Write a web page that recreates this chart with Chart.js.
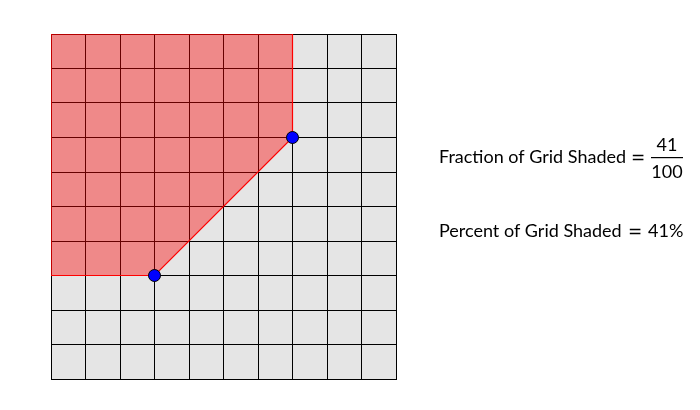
<!DOCTYPE html>
<html>
<head>
<meta charset="utf-8">
<script src="https://cdn.jsdelivr.net/npm/chart.js@4"></script>
<style>
  html, body { margin: 0; padding: 0; background: #fff; }
  #wrap { width: 700px; height: 410px; }
</style>
</head>
<body>
<div id="wrap"><canvas id="grid"></canvas></div>
<script>
// shaded region outline (grid units)
var shadeX = [0, 7, 7, 3, 0, 0];
var shadeY = [10, 10, 7, 3, 3, 10];
// marked vertices
var dotX = [7, 3];
var dotY = [7, 3];
var gridMin = 0, gridMax = 10;
var shadedCount = 41, totalCount = 100;

function pts(xs, ys) {
  return xs.map((x, i) => ({x: x, y: ys[i]}));
}

var bgPlugin = {
  id: "bg",
  beforeDraw: (chart) => {
    var a = chart.chartArea, c = chart.ctx;
    c.save();
    c.fillStyle = "#e5e5e5";
    c.fillRect(a.left, a.top, a.right - a.left, a.bottom - a.top);
    c.restore();
  }
};

var textPlugin = {
  id: "txt",
  afterDraw: (chart) => {
    var c = chart.ctx;
    c.save();
    c.fillStyle = "#000";
    c.font = "18px Lato";
    c.textBaseline = "alphabetic";
    c.textAlign = "left";
    c.fillText("Fraction of Grid Shaded", 439, 163);
    c.fillText("Percent of Grid Shaded", 439, 237);
    c.textAlign = "center";
    c.fillText(String(shadedCount), 667, 151);
    c.fillText(String(totalCount), 667, 178);
    c.fillRect(651, 157, 32, 1.2);
    c.textAlign = "left";
    c.fillText(Math.round(shadedCount / totalCount * 100) + "%", 648, 237);
    c.font = "17px DejaVu Sans";
    c.textAlign = "center";
    c.fillText("=", 638, 163);
    c.fillText("=", 635, 237);
    c.restore();
  }
};

new Chart("grid", {
  type: "scatter",
  data: {
    datasets: [{
      data: pts(shadeX, shadeY),
      order: 2,
      showLine: true,
      fill: "shape",
      backgroundColor: "rgba(255,0,0,0.4)",
      borderColor: "#ff0000",
      borderWidth: 1.2,
      pointRadius: 0,
      tension: 0
    }, {
      data: pts(dotX, dotY),
      order: 1,
      pointRadius: 6,
      pointBackgroundColor: "#0000ff",
      pointBorderColor: "#000",
      pointBorderWidth: 1
    }]
  },
  options: {
    responsive: true,
    maintainAspectRatio: false,
    animation: false,
    layout: { padding: { left: 51, top: 34, right: 304, bottom: 31 } },
    plugins: { legend: { display: false }, tooltip: { enabled: false } },
    scales: {
      x: {
        min: gridMin, max: gridMax,
        ticks: { display: false, stepSize: 1 },
        grid: { color: "#000", lineWidth: 1, drawTicks: false },
        border: { color: "#000" },
        afterFit: (s) => { s.height = 0; }
      },
      y: {
        min: gridMin, max: gridMax,
        ticks: { display: false, stepSize: 1 },
        grid: { color: "#000", lineWidth: 1, drawTicks: false },
        border: { color: "#000" },
        afterFit: (s) => { s.width = 0; }
      }
    }
  },
  plugins: [bgPlugin, textPlugin]
});
</script>
</body>
</html>
